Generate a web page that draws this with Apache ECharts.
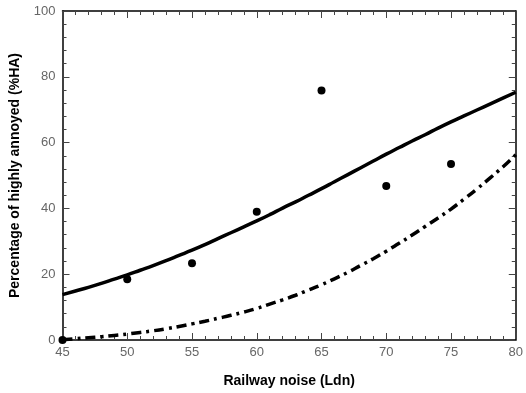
<!DOCTYPE html>
<html>
<head>
    <meta charset="utf-8">
    <title>Railway noise - %HA</title>
    <style type="text/css">
        html, body { margin: 0; padding: 0; background: #fff; }
        #page { width: 526px; height: 393px; }
    </style>
</head>
<body>
<div id="page"></div>
<script src="https://cdn.jsdelivr.net/npm/echarts@6/dist/echarts.min.js"></script>
<script>
    // x 取值 (Ldn)
    var noise = [45, 46, 47, 48, 49, 50, 51, 52, 53, 54, 55, 56, 57, 58, 59, 60, 61, 62,
        63, 64, 65, 66, 67, 68, 69, 70, 71, 72, 73, 74, 75, 76, 77, 78, 79, 80];
    // 实线
    var curveSolid = [13.8, 14.9, 16.0, 17.2, 18.5, 19.8, 21.2, 22.6, 24.1, 25.7, 27.3, 29.0,
        30.8, 32.6, 34.4, 36.2, 38.1, 40.1, 42.0, 44.0, 46.0, 48.1, 50.2, 52.3, 54.4, 56.5,
        58.5, 60.5, 62.4, 64.4, 66.3, 68.1, 69.9, 71.7, 73.5, 75.3];
    // 点划线
    var curveDashDot = [0.1, 0.4, 0.7, 1.0, 1.4, 1.8, 2.3, 2.8, 3.4, 4.1, 4.9, 5.7, 6.6, 7.5,
        8.5, 9.6, 10.9, 12.2, 13.6, 15.2, 16.8, 18.6, 20.5, 22.6, 24.7, 27.0, 29.4, 31.9, 34.5,
        37.1, 39.8, 42.8, 45.9, 49.2, 52.6, 56.3];
    // 观测点
    var obsX = [45, 50, 55, 60, 65, 70, 75];
    var obsY = [0, 18.5, 23.3, 39, 75.8, 46.8, 53.5];

    var xTicks = [45, 50, 55, 60, 65, 70, 75, 80];
    var yTicks = [0, 20, 40, 60, 80, 100];

    function pairs(xs, ys) {
        var out = [];
        for (var i = 0; i < xs.length; i++) out.push([xs[i], ys[i]]);
        return out;
    }

    var myChart = echarts.init(document.getElementById('page'));
    var font = 'Liberation Sans, Arial, sans-serif';

    function baseAxis(showLabel) {
        return {
            type: 'value',
            axisLine: {show: true, onZero: false, lineStyle: {color: '#000', width: 1.5}},
            axisTick: {show: true, inside: true, length: 7, lineStyle: {color: '#444', width: 1}},
            minorTick: {show: true, splitNumber: 5, length: 4, lineStyle: {color: '#444', width: 1}},
            splitLine: {show: false},
            axisLabel: {show: showLabel, color: '#666', fontSize: 13, fontFamily: font}
        };
    }

    var xBottom = baseAxis(true);
    xBottom.min = xTicks[0];
    xBottom.max = xTicks[xTicks.length - 1];
    xBottom.interval = 5;
    xBottom.position = 'bottom';
    xBottom.axisLabel.margin = 6;
    xBottom.name = 'Railway noise (Ldn)';
    xBottom.nameLocation = 'middle';
    xBottom.nameGap = 34;
    xBottom.nameTextStyle = {color: '#000', fontWeight: 'bold', fontSize: 14, fontFamily: font};

    var xTop = baseAxis(false);
    xTop.min = xTicks[0];
    xTop.max = xTicks[xTicks.length - 1];
    xTop.interval = 5;
    xTop.position = 'top';

    var yLeft = baseAxis(true);
    yLeft.min = yTicks[0];
    yLeft.max = yTicks[yTicks.length - 1];
    yLeft.interval = 20;
    yLeft.position = 'left';
    yLeft.axisLabel.margin = 7;
    yLeft.name = 'Percentage of highly annoyed (%HA)';
    yLeft.nameLocation = 'middle';
    yLeft.nameGap = 40;
    yLeft.nameTextStyle = {color: '#000', fontWeight: 'bold', fontSize: 14, fontFamily: font};

    var yRight = baseAxis(false);
    yRight.min = yTicks[0];
    yRight.max = yTicks[yTicks.length - 1];
    yRight.interval = 20;
    yRight.position = 'right';

    var option = {
        backgroundColor: '#fff',
        animation: false,
        grid: {left: 62.5, right: 6.5, top: 11, bottom: 52.5},
        xAxis: [xBottom, xTop],
        yAxis: [yLeft, yRight],
        series: [
            {
                type: 'line',
                data: pairs(noise, curveSolid),
                showSymbol: false,
                smooth: true,
                lineStyle: {color: '#000', width: 3.5},
                z: 3
            },
            {
                type: 'line',
                data: pairs(noise, curveDashDot),
                showSymbol: false,
                smooth: true,
                lineStyle: {color: '#000', width: 3.5, type: [10, 5, 3, 5]},
                z: 3
            },
            {
                type: 'scatter',
                data: pairs(obsX, obsY),
                symbolSize: 8,
                itemStyle: {color: '#000', opacity: 1},
                clip: false,
                z: 4
            }
        ]
    };
    myChart.setOption(option);
</script>
</body>
</html>
